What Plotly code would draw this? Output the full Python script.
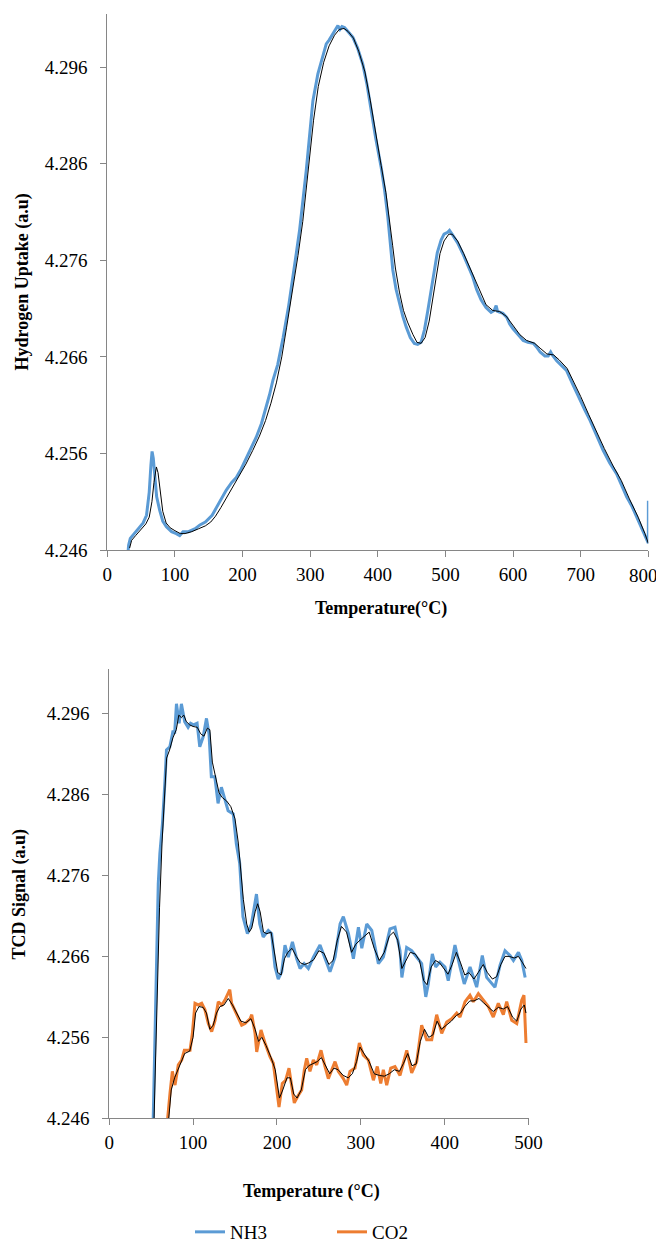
import plotly.graph_objects as go

# ---------------- Top chart: Hydrogen uptake (TPR) ----------------
top_T = [30.7, 31.5, 34, 40, 47, 53, 58, 62, 64.5, 66.2, 68, 70, 73, 77.5, 82, 87.4, 95, 102, 107, 112,
         120, 130, 137, 145, 151, 155, 159, 165, 176, 184, 190.8, 198, 205.6, 213, 220.4, 228, 235, 240,
         245, 252, 260, 268, 278, 284.3, 294.2, 304, 311.4, 318, 323.8, 328, 333.5, 337, 341, 344, 347,
         350.8, 356, 363, 370, 377.8, 384, 390.2, 397, 405, 410, 414.8, 418, 422.2, 427, 432, 437, 442,
         448, 454, 459, 464, 469, 474, 479, 483.7, 488, 493.6, 498, 503.4, 506, 510.8, 518, 525.6, 533,
         540.3, 546, 552.7, 560, 567.5, 572, 575, 577, 580.7, 585, 590.6, 595, 600, 607, 615, 622, 630,
         635, 640, 647, 652, 655.6, 658, 664.5, 672, 679, 688, 699, 706, 714, 724, 733.4, 743, 753, 760,
         768, 776, 783, 790, 797.6, 800, 800.1]
top_blue = [4.2458, 4.2465, 4.2472, 4.2477, 4.2482, 4.2488, 4.2496, 4.2520, 4.2548, 4.2562, 4.2555,
            4.2535, 4.2515, 4.2501, 4.2490, 4.2484, 4.2479, 4.2477, 4.2475, 4.2479, 4.2479, 4.2482,
            4.2486, 4.2489, 4.2493, 4.2496, 4.2501, 4.2509, 4.2522, 4.2530, 4.2535, 4.2544, 4.2555,
            4.2566, 4.2577, 4.2591, 4.2608, 4.2621, 4.2636, 4.2652, 4.2680, 4.2712, 4.2760, 4.2791,
            4.2853, 4.2925, 4.2953, 4.2970, 4.2984, 4.2988, 4.2994, 4.2998, 4.3003, 4.2999, 4.3002,
            4.3001, 4.2997, 4.2991, 4.2980, 4.2963, 4.2942, 4.2915, 4.2886, 4.2856, 4.2833, 4.2805,
            4.2780, 4.2750, 4.2730, 4.2715, 4.2702, 4.2691, 4.2680, 4.2674, 4.2673, 4.2675, 4.2688,
            4.2708, 4.2730, 4.2750, 4.2768, 4.2781, 4.2787, 4.2789, 4.2791, 4.2786, 4.2778, 4.2767,
            4.2754, 4.2743, 4.2730, 4.2719, 4.2711, 4.2706, 4.2708, 4.2713, 4.2707, 4.2706, 4.2705,
            4.2701, 4.2694, 4.2689, 4.2683, 4.2677, 4.2675, 4.2674, 4.2670, 4.2665, 4.2661, 4.2661,
            4.2665, 4.2662, 4.2656, 4.2651, 4.2646, 4.2632, 4.2615, 4.2605, 4.2594, 4.2578, 4.2563,
            4.2550, 4.2539, 4.2528, 4.2515, 4.2505, 4.2494, 4.2482, 4.2470, 4.2467, 4.2511]

top_trend_T = [33, 36, 42, 50, 57, 62, 66, 69, 72.6, 75, 78, 82, 87, 93, 100, 108, 115, 125, 135, 145,
               153, 160, 168, 178, 188, 196, 205, 215, 225, 234, 242, 250, 258, 265, 273, 282, 289, 297,
               305, 312, 320, 328, 336, 343, 350, 356, 364, 372, 381, 389, 397, 405, 412, 418, 422, 426,
               432, 438, 444, 452, 458, 464, 470, 476, 481, 486, 492, 498, 505, 510, 518, 527, 535, 543,
               552, 560, 570, 580, 590, 600, 610, 620, 632, 640, 650, 660, 668, 680, 690, 700, 712, 725,
               735, 748, 760, 772, 785, 795, 800]
top_trend = [4.2462, 4.2470, 4.2475, 4.2481, 4.2487, 4.2494, 4.2510, 4.2530, 4.2546, 4.2540, 4.2520,
             4.2500, 4.2488, 4.2483, 4.2480, 4.2477, 4.2477, 4.2479, 4.2482, 4.2485, 4.2489, 4.2495,
             4.2504, 4.2516, 4.2528, 4.2537, 4.2549, 4.2563, 4.2578, 4.2594, 4.2612, 4.2633, 4.2660,
             4.2690, 4.2725, 4.2765, 4.2800, 4.2850, 4.2905, 4.2940, 4.2965, 4.2982, 4.2993, 4.2999,
             4.3000, 4.2997, 4.2990, 4.2976, 4.2955, 4.2925, 4.2890, 4.2858, 4.2830, 4.2800, 4.2775,
             4.2752, 4.2727, 4.2708, 4.2696, 4.2683, 4.2675, 4.2674, 4.2680, 4.2697, 4.2720, 4.2744,
             4.2767, 4.2780, 4.2787, 4.2787, 4.2780, 4.2767, 4.2754, 4.2742, 4.2726, 4.2714, 4.2708,
             4.2707, 4.2702, 4.2692, 4.2683, 4.2677, 4.2674, 4.2669, 4.2663, 4.2662, 4.2657, 4.2648,
             4.2634, 4.2619, 4.2600, 4.2580, 4.2565, 4.2547, 4.2532, 4.2513, 4.2494, 4.2477, 4.2467]

# ---------------- Bottom chart: TPD (NH3 and CO2) ----------------
nh3_T = [52.5, 54, 56.4, 58.5, 60.4, 63.5, 66.3, 68.3, 72.3, 76.2, 78, 80.2, 83.4, 86.1, 90, 94.1, 97,
         100.4, 104.8, 108, 112, 116, 119, 121.8, 125.9, 129.8, 133.8, 137.8, 141.8, 147.9, 151.6, 155.6,
         159.5, 164.8, 169.6, 175.6, 179.5, 183.6, 189.7, 193.7, 197.7, 201.6, 205.7, 209.6, 213.6, 218.5,
         223.6, 227.6, 232.4, 237.5, 243.5, 251.4, 257.3, 263.3, 269.3, 275.3, 279.2, 285.3, 291.2, 297.2,
         301.2, 307.1, 313.1, 321, 326.9, 334.8, 340.8, 346.8, 349, 354.7, 360.7, 366.7, 372.6, 377.5,
         380.5, 385.3, 389.3, 394.4, 400.4, 404.3, 412.3, 418.3, 423.4, 430.3, 438.2, 444.9, 450.1, 460,
         466, 472, 478, 482, 488, 492, 496]
nh3 = [4.2460, 4.2540, 4.2667, 4.2750, 4.2787, 4.2824, 4.2873, 4.2915, 4.2919, 4.2939, 4.2935, 4.2972,
       4.2948, 4.2972, 4.2950, 4.2943, 4.2948, 4.2946, 4.2948, 4.2919, 4.2931, 4.2954, 4.2935, 4.2882,
       4.2882, 4.2849, 4.2869, 4.2853, 4.2840, 4.2836, 4.2799, 4.2775, 4.2709, 4.2688, 4.2700, 4.2737,
       4.2700, 4.2684, 4.2692, 4.2688, 4.2647, 4.2632, 4.2641, 4.2674, 4.2659, 4.2678, 4.2657, 4.2645,
       4.2651, 4.2645, 4.2659, 4.2674, 4.2657, 4.2641, 4.2659, 4.2700, 4.2709, 4.2688, 4.2657, 4.2696,
       4.2670, 4.2700, 4.2692, 4.2651, 4.2659, 4.2694, 4.2696, 4.2667, 4.2634, 4.2671, 4.2667, 4.2659,
       4.2651, 4.2610, 4.2626, 4.2663, 4.2647, 4.2653, 4.2647, 4.2630, 4.2674, 4.2647, 4.2626, 4.2647,
       4.2622, 4.2661, 4.2634, 4.2622, 4.2649, 4.2667, 4.2661, 4.2655, 4.2665, 4.2655, 4.2634]

nh3_trend_T = [53.5, 57, 60, 63, 66, 68.5, 72, 76, 80, 83, 86, 89, 92, 96, 100, 105, 109, 113, 117, 120,
               123, 127, 131, 135, 140, 145, 150, 154, 157, 160, 164, 167, 170, 174, 177, 180, 184, 188,
               193, 197, 201, 205, 209, 213, 218, 223, 228, 233, 238, 244, 250, 256, 262, 267, 272, 277,
               283, 289, 294, 299, 304, 310, 316, 322, 328, 334, 339, 344, 349, 354, 359, 365, 370, 375,
               379, 384, 389, 394, 399, 404, 409, 414, 419, 424, 429, 435, 440, 446, 451, 457, 462, 467,
               472, 477, 483, 488, 493, 497]
nh3_trend = [4.2460, 4.2600, 4.2720, 4.2800, 4.2860, 4.2905, 4.2915, 4.2930, 4.2940, 4.2958, 4.2955,
             4.2958, 4.2950, 4.2946, 4.2944, 4.2943, 4.2935, 4.2932, 4.2942, 4.2940, 4.2900, 4.2880,
             4.2862, 4.2856, 4.2852, 4.2845, 4.2830, 4.2800, 4.2765, 4.2730, 4.2700, 4.2690, 4.2695,
             4.2715, 4.2725, 4.2715, 4.2690, 4.2688, 4.2690, 4.2665, 4.2640, 4.2637, 4.2657, 4.2665,
             4.2670, 4.2660, 4.2652, 4.2650, 4.2652, 4.2656, 4.2667, 4.2664, 4.2650, 4.2655, 4.2680,
             4.2697, 4.2690, 4.2665, 4.2675, 4.2680, 4.2685, 4.2690, 4.2670, 4.2655, 4.2665, 4.2685,
             4.2690, 4.2680, 4.2645, 4.2655, 4.2665, 4.2663, 4.2655, 4.2630, 4.2625, 4.2647, 4.2655,
             4.2652, 4.2645, 4.2638, 4.2650, 4.2665, 4.2652, 4.2637, 4.2640, 4.2632, 4.2640, 4.2650,
             4.2640, 4.2632, 4.2635, 4.2650, 4.2660, 4.2660, 4.2658, 4.2660, 4.2652, 4.2645]

co2_T = [69.7, 70.5, 72.5, 75.3, 78.5, 82.4, 86.4, 89.6, 96.4, 99.2, 102.3, 106.3, 110.3, 114.2, 118.2,
         122.2, 126.2, 130.1, 134.2, 138, 143.8, 146, 152, 158, 162, 168, 170, 173.9, 175.9, 181, 185.8,
         191.7, 195.7, 198.5, 202.5, 206.4, 210.4, 214.4, 217.6, 220.7, 224.7, 229.5, 232.7, 235.5, 239.4,
         243.4, 247.4, 252.6, 257.3, 261.3, 269.3, 273.2, 279.2, 283.2, 287.1, 293.1, 298.3, 303, 309,
         315, 319.7, 323.8, 326.9, 330.9, 335.7, 340.8, 346.8, 354.8, 360.7, 366.7, 372.6, 378.6, 384.6,
         390.5, 396.5, 402.5, 408.4, 414.4, 418.3, 424.3, 430.2, 434.2, 440.2, 446.1, 452.1, 458, 464,
         470, 474, 480, 486, 491.9, 494.6, 497]
co2 = [4.2460, 4.2470, 4.2491, 4.2518, 4.2501, 4.2526, 4.2532, 4.2544, 4.2544, 4.2565, 4.2602, 4.2600,
       4.2602, 4.2594, 4.2577, 4.2567, 4.2581, 4.2604, 4.2600, 4.2606, 4.2619, 4.2602, 4.2588, 4.2575,
       4.2577, 4.2583, 4.2588, 4.2565, 4.2542, 4.2569, 4.2553, 4.2536, 4.2528, 4.2503, 4.2474, 4.2503,
       4.2507, 4.2522, 4.2499, 4.2479, 4.2487, 4.2495, 4.2520, 4.2534, 4.2518, 4.2532, 4.2526, 4.2544,
       4.2524, 4.2509, 4.2530, 4.2518, 4.2509, 4.2501, 4.2518, 4.2522, 4.2553, 4.2538, 4.2532, 4.2507,
       4.2524, 4.2503, 4.2520, 4.2501, 4.2522, 4.2524, 4.2513, 4.2544, 4.2516, 4.2530, 4.2575, 4.2557,
       4.2557, 4.2588, 4.2565, 4.2579, 4.2583, 4.2590, 4.2585, 4.2604, 4.2612, 4.2604, 4.2614, 4.2606,
       4.2598, 4.2585, 4.2602, 4.2588, 4.2604, 4.2581, 4.2577, 4.2606, 4.2612, 4.2553]

co2_trend_T = [71, 74, 78, 82, 86, 90, 96, 100, 103, 107, 112, 116, 120, 124, 128, 132, 137, 142, 147,
               152, 157, 163, 169, 174, 178, 182, 187, 193, 198, 203, 207, 212, 216, 220, 224, 229, 234,
               238, 243, 248, 253, 258, 263, 268, 273, 279, 285, 290, 295, 299, 304, 310, 316, 322, 328,
               334, 340, 346, 351, 356, 361, 366, 371, 376, 381, 386, 391, 396, 402, 408, 414, 419, 424,
               430, 435, 441, 446, 452, 458, 464, 470, 475, 481, 486, 491, 495, 497]
co2_trend = [4.2460, 4.2495, 4.2510, 4.2520, 4.2530, 4.2540, 4.2543, 4.2560, 4.2590, 4.2598, 4.2597,
             4.2590, 4.2570, 4.2575, 4.2590, 4.2598, 4.2600, 4.2608, 4.2600, 4.2590, 4.2580, 4.2578,
             4.2583, 4.2570, 4.2555, 4.2560, 4.2550, 4.2535, 4.2520, 4.2485, 4.2495, 4.2510, 4.2510,
             4.2490, 4.2485, 4.2495, 4.2520, 4.2525, 4.2528, 4.2530, 4.2535, 4.2525, 4.2515, 4.2522,
             4.2520, 4.2513, 4.2510, 4.2515, 4.2530, 4.2548, 4.2540, 4.2530, 4.2515, 4.2513, 4.2512,
             4.2515, 4.2520, 4.2518, 4.2528, 4.2540, 4.2525, 4.2527, 4.2555, 4.2570, 4.2560, 4.2563,
             4.2580, 4.2570, 4.2575, 4.2580, 4.2587, 4.2590, 4.2598, 4.2605, 4.2605, 4.2608, 4.2603,
             4.2598, 4.2592, 4.2597, 4.2595, 4.2598, 4.2585, 4.2580, 4.2595, 4.2600, 4.2590]

top_x_ticks = [0, 100, 200, 300, 400, 500, 600, 700, 800]
top_x_text = ["0", "100", "200", "300", "400", "500", "600", "700", ""]  # "800" drawn as annotation
bottom_x_ticks = [0, 100, 200, 300, 400, 500]
y_ticks = [4.246, 4.256, 4.266, 4.276, 4.286, 4.296]
y_tick_text = ["4.246", "4.256", "4.266", "4.276", "4.286", "4.296"]

BLUE = "#5B9BD5"
ORANGE = "#ED7D31"
AXIS = "#868686"
FONT = "Liberation Serif, Times New Roman, serif"
TICK_SIZE = 19

fig = go.Figure()
fig.add_trace(go.Scatter(x=top_T, y=top_blue, mode="lines", line=dict(color=BLUE, width=3),
                         showlegend=False, xaxis="x", yaxis="y"))
fig.add_trace(go.Scatter(x=top_trend_T, y=top_trend, mode="lines", line=dict(color="#000000", width=1),
                         showlegend=False, xaxis="x", yaxis="y"))
fig.add_trace(go.Scatter(x=nh3_T, y=nh3, mode="lines", name="NH3", line=dict(color=BLUE, width=3),
                         xaxis="x2", yaxis="y2"))
fig.add_trace(go.Scatter(x=co2_T, y=co2, mode="lines", name="CO2", line=dict(color=ORANGE, width=3),
                         xaxis="x2", yaxis="y2"))
fig.add_trace(go.Scatter(x=nh3_trend_T, y=nh3_trend, mode="lines", line=dict(color="#000000", width=1),
                         showlegend=False, xaxis="x2", yaxis="y2"))
fig.add_trace(go.Scatter(x=co2_trend_T, y=co2_trend, mode="lines", line=dict(color="#000000", width=1),
                         showlegend=False, xaxis="x2", yaxis="y2"))

# The page body keeps its default 8px margin: the figure may run into the right margin
# (no scrolling) but must stay 16px shorter than the window.
W, H = 656, 1234
OFF = 8


def px(x):
    return (x - OFF) / W


def py(y):
    return 1 - (y - OFF) / H


axis_common = dict(showline=True, linecolor=AXIS, linewidth=1, ticks="outside", ticklen=6,
                   tickcolor=AXIS, tickwidth=1, showgrid=False, zeroline=False,
                   tickfont=dict(family=FONT, size=TICK_SIZE, color="#000000"))

fig.update_layout(
    width=W, height=H, margin=dict(l=0, r=0, t=0, b=0, autoexpand=False),
    paper_bgcolor="white", plot_bgcolor="white",
    font=dict(family=FONT, size=18, color="#000000"),
    xaxis=dict(domain=[px(107.3), px(648.3)], range=[0, 800], tickvals=top_x_ticks, ticktext=top_x_text,
               anchor="y", ticklabelstandoff=1, **axis_common),
    yaxis=dict(domain=[py(550), py(14)], range=[4.246, 4.3015], tickvals=y_ticks,
               ticktext=y_tick_text, anchor="x", ticklabelstandoff=9, **axis_common),
    xaxis2=dict(domain=[px(109.2), px(528.5)], range=[0, 500], tickvals=bottom_x_ticks, anchor="y2",
                ticklabelstandoff=1, **axis_common),
    yaxis2=dict(domain=[py(1118.3), py(669)], range=[4.246, 4.3015], tickvals=y_ticks,
                ticktext=y_tick_text, anchor="x2", ticklabelstandoff=9, **axis_common),
    legend=dict(orientation="h", x=px(190), xanchor="left", y=py(1232), yanchor="middle",
                font=dict(family=FONT, size=TICK_SIZE, color="#000000"), bgcolor="rgba(0,0,0,0)",
                entrywidth=97, entrywidthmode="pixels", itemwidth=30),
    annotations=[
        dict(text="800", x=800, xref="x", y=py(575), yref="paper", xshift=-5,
             showarrow=False, xanchor="center", yanchor="middle",
             font=dict(family=FONT, size=TICK_SIZE, color="#000000")),
        dict(text="<b>Temperature(°C)</b>", x=px(381), y=py(608), xref="paper", yref="paper",
             showarrow=False, xanchor="center", yanchor="middle", font=dict(family=FONT, size=18)),
        dict(text="<b>Hydrogen Uptake (a.u)</b>", x=px(23.4), y=py(282), xref="paper", yref="paper",
             showarrow=False, xanchor="center", yanchor="middle", textangle=-90,
             font=dict(family=FONT, size=18)),
        dict(text="<b>Temperature (°C)</b>", x=px(311), y=py(1191), xref="paper", yref="paper",
             showarrow=False, xanchor="center", yanchor="middle", font=dict(family=FONT, size=18)),
        dict(text="<b>TCD Signal (a.u)</b>", x=px(18.5), y=py(894), xref="paper", yref="paper",
             showarrow=False, xanchor="center", yanchor="middle", textangle=-90,
             font=dict(family=FONT, size=18)),
    ],
)

fig.write_html("out.html", config={"displayModeBar": False})
